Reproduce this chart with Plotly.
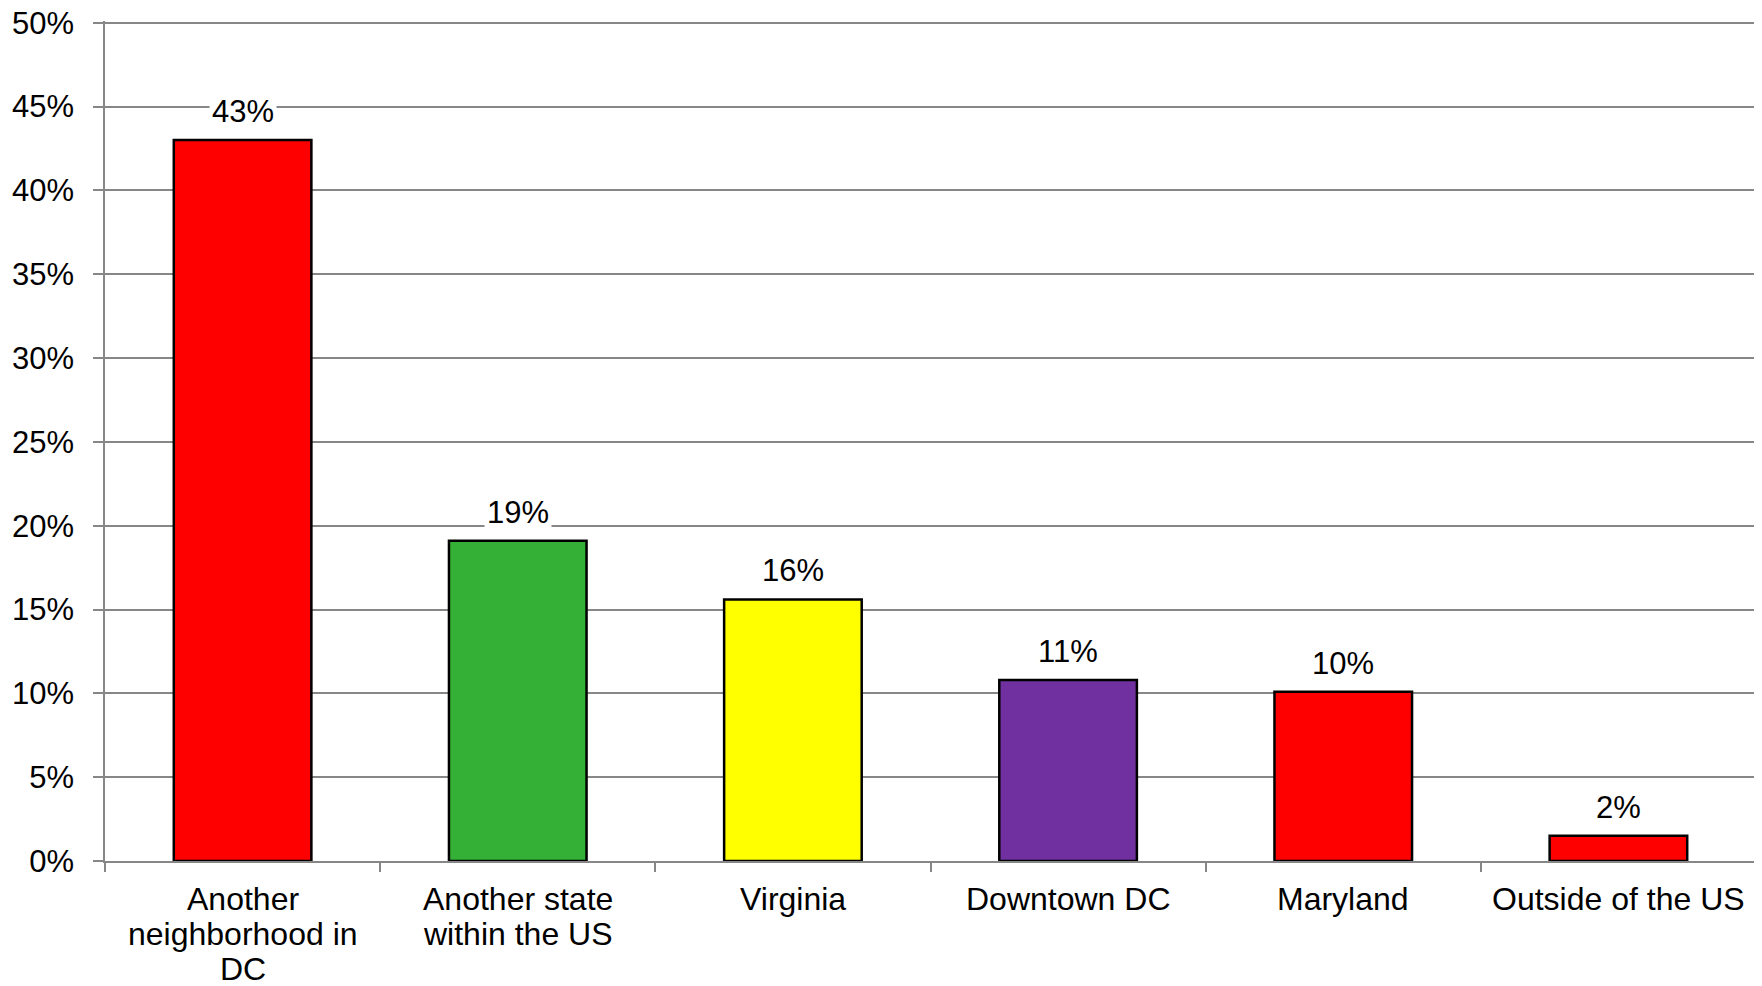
import plotly.graph_objects as go

categories = ['Another neighborhood in DC', 'Another state within the US', 'Virginia',
              'Downtown DC', 'Maryland', 'Outside of the US']
category_lines = [['Another', 'neighborhood in', 'DC'], ['Another state', 'within the US'], ['Virginia'],
                  ['Downtown DC'], ['Maryland'], ['Outside of the US']]
shares = [0.430, 0.191, 0.156, 0.108, 0.101, 0.015]
labels = ['43%', '19%', '16%', '11%', '10%', '2%']
colors = ['#FF0000', '#33B035', '#FFFF00', '#7030A0', '#FF0000', '#FF0000']

font = dict(family='Liberation Sans, Arial, sans-serif', size=31, color='black')
cat_font = dict(family='Liberation Sans, Arial, sans-serif', size=32, color='black')

fig = go.Figure(go.Bar(
    x=categories, y=shares,
    marker=dict(color=colors, line=dict(color='black', width=2.5)),
    hoverinfo='skip',
))

# value labels with white boxes so the gridlines are broken behind them
for cat, val, lab in zip(categories, shares, labels):
    fig.add_annotation(x=cat, y=val, text=lab, showarrow=False, yanchor='bottom', yshift=8,
                       bgcolor='white', borderpad=2, font=font)

# category labels, one annotation per line to get the tighter line spacing
for cat, lines in zip(categories, category_lines):
    for i, line in enumerate(lines):
        fig.add_annotation(x=cat, y=0, text=line, showarrow=False, yanchor='middle',
                           yshift=-38 - 35 * i, font=cat_font)

fig.update_layout(
    width=1754, height=978,
    margin=dict(l=97, r=6, t=13, b=125),
    paper_bgcolor='white', plot_bgcolor='white',
    bargap=0.5, showlegend=False, font=font,
)
# range nudged past 50% so the top gridline is still drawn
fig.update_yaxes(range=[0, 0.501], tickvals=[i * 0.05 for i in range(11)], tickformat='.0%',
                 automargin=False, ticklabeloverflow='allow',
                 showgrid=True, gridcolor='#878787', gridwidth=1.5,
                 showline=True, linecolor='#878787', linewidth=1.5,
                 ticks='outside', ticklen=10, tickcolor='#878787', tickwidth=1.5,
                 ticklabelstandoff=13, zeroline=False)
fig.update_xaxes(showline=True, linecolor='#878787', linewidth=1.5, automargin=False,
                 ticks='outside', tickson='boundaries', ticklen=9, tickcolor='#878787', tickwidth=1.5,
                 showticklabels=False, showgrid=False)

fig.write_html('out.html')
